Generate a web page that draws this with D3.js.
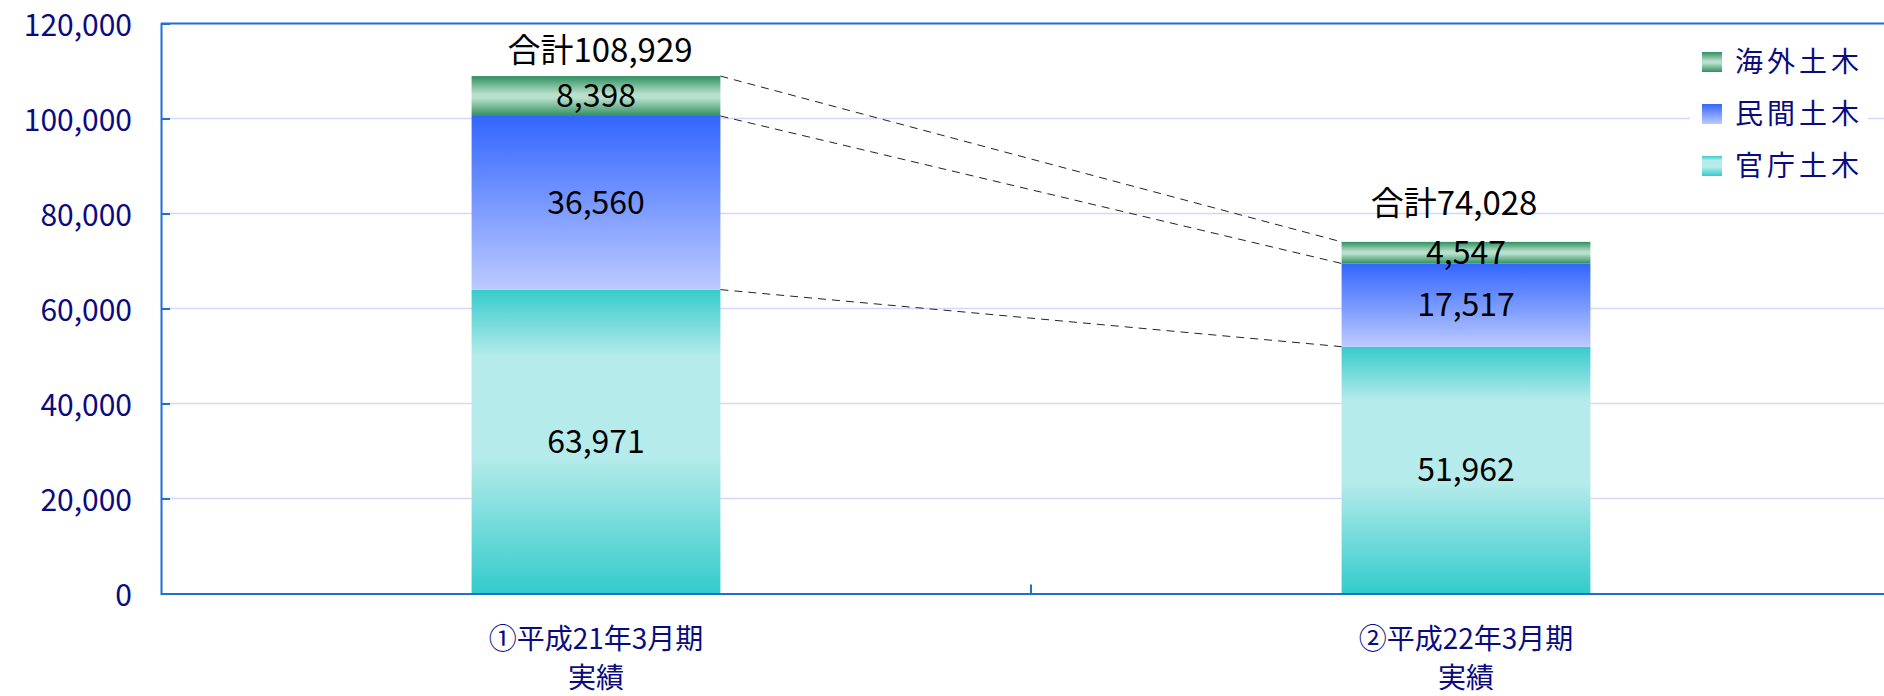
<!DOCTYPE html>
<html>
<head>
<meta charset="utf-8">
<script src="https://cdn.jsdelivr.net/npm/d3@7"></script>
<style>
  html, body { margin: 0; padding: 0; background: #fff; }
  svg { display: block; font-family: "Noto Sans CJK JP", "Noto Sans", sans-serif; }
</style>
</head>
<body>
<div id="chart"></div>
<script>
// data
const categories = ['①平成21年3月期', '②平成22年3月期']
const categorySub = ['実績', '実績']
const seriesNames = ['官庁土木', '民間土木', '海外土木']
const kanchoValues = [63971, 51962]
const minkanValues = [36560, 17517]
const kaigaiValues = [8398, 4547]
const totals = [108929, 74028]
const yTicks = [0, 20000, 40000, 60000, 80000, 100000, 120000]

const width = 1884, height = 696
const margin = { left: 161, top: 23.5, bottom: 593.5, right: 1901 }
const navy = '#0b0b80'
const axisBlue = '#1f6fd6'

const svg = d3.select('#chart').append('svg')
  .attr('width', width)
  .attr('height', height)

// gradients
const defs = svg.append('defs')
const grads = {
  kancho: [[0, '#36cbcb'], [0.22, '#b6ebeb'], [0.55, '#b6ebeb'], [1, '#33cbcb']],
  minkan: [[0, '#3366ff'], [1, '#bccaff']],
  kaigai: [[0, '#2f8f5f'], [0.45, '#b9e0cc'], [0.55, '#b9e0cc'], [1, '#2f8f5f']]
}
Object.keys(grads).forEach((k) => {
  let g = defs.append('linearGradient').attr('id', 'g-' + k)
    .attr('x1', 0).attr('y1', 0).attr('x2', 0).attr('y2', 1)
  grads[k].forEach((s) => {
    g.append('stop').attr('offset', s[0]).attr('stop-color', s[1])
  })
})
const fillKeys = ['kancho', 'minkan', 'kaigai']

const y = d3.scaleLinear().domain([0, 120000]).range([margin.bottom, margin.top])
const x = d3.scaleBand().domain(categories).range([margin.left, margin.right])
const barW = x.bandwidth() * 0.286

// grid lines
svg.append('g')
  .selectAll('line')
  .data(yTicks.filter((t) => t > 0 && t < 120000))
  .enter().append('line')
  .attr('x1', margin.left).attr('x2', width)
  .attr('y1', (d) => y(d)).attr('y2', (d) => y(d))
  .attr('stroke', '#d6d6fb').attr('stroke-width', 1.5)

// stacked data
const rows = categories.map((c, i) => ({
  cat: c, s0: kanchoValues[i], s1: minkanValues[i], s2: kaigaiValues[i]
}))
const stacked = d3.stack().keys(['s0', 's1', 's2'])(rows)

const barX = (c) => x(c) + (x.bandwidth() - barW) / 2

stacked.forEach((layer, li) => {
  svg.append('g')
    .selectAll('rect')
    .data(layer)
    .enter().append('rect')
    .attr('x', (d) => barX(d.data.cat))
    .attr('y', (d) => y(d[1]))
    .attr('width', barW)
    .attr('height', (d) => y(d[0]) - y(d[1]))
    .attr('fill', 'url(#g-' + fillKeys[li] + ')')
})

// dashed connectors between bar tops
const levels = [0, 1, 2].map((li) => stacked[li].map((d) => d[1]))
svg.append('g')
  .selectAll('line')
  .data(levels)
  .enter().append('line')
  .attr('x1', barX(categories[0]) + barW)
  .attr('y1', (d) => y(d[0]))
  .attr('x2', barX(categories[1]))
  .attr('y2', (d) => y(d[1]))
  .attr('stroke', '#222')
  .attr('stroke-width', 1)
  .attr('stroke-dasharray', '8,6')

// segment value labels
stacked.forEach((layer) => {
  svg.append('g')
    .selectAll('text')
    .data(layer)
    .enter().append('text')
    .attr('x', (d) => barX(d.data.cat) + barW / 2)
    .attr('y', (d) => (y(d[0]) + y(d[1])) / 2 + 11)
    .attr('text-anchor', 'middle')
    .attr('font-size', 32)
    .attr('fill', '#000')
    .text((d) => d3.format(',')(d[1] - d[0]))
})

// totals
const totalGap = [14, 27]
const totalShift = [4, -12]
svg.append('g')
  .selectAll('text')
  .data(totals)
  .enter().append('text')
  .attr('x', (d, i) => barX(categories[i]) + barW / 2 + totalShift[i])
  .attr('y', (d, i) => y(d) - totalGap[i])
  .attr('text-anchor', 'middle')
  .attr('font-size', 33)
  .attr('fill', '#000')
  .text((d) => '合計' + d3.format(',')(d))

// axes
const yAxis = svg.append('g')
  .attr('transform', `translate(${margin.left},0)`)
  .call(d3.axisRight(y).tickValues(yTicks).tickSize(9).tickFormat(''))
yAxis.select('.domain').attr('stroke', axisBlue).attr('stroke-width', 2)
yAxis.selectAll('.tick line').attr('stroke', axisBlue).attr('stroke-width', 2)

svg.append('g')
  .selectAll('text')
  .data(yTicks)
  .enter().append('text')
  .attr('x', 132)
  .attr('y', (d) => y(d) + 12)
  .attr('text-anchor', 'end')
  .attr('font-size', 30)
  .attr('fill', navy)
  .text((d) => d3.format(',')(d))

// top border
svg.append('line')
  .attr('x1', margin.left).attr('x2', width)
  .attr('y1', margin.top).attr('y2', margin.top)
  .attr('stroke', axisBlue).attr('stroke-width', 2)

const xAxis = svg.append('g')
  .attr('transform', `translate(0,${margin.bottom})`)
  .call(d3.axisTop(x).tickSize(0).tickFormat(''))
xAxis.select('.domain').attr('stroke', axisBlue).attr('stroke-width', 2)
svg.append('line')
  .attr('x1', x(categories[1])).attr('x2', x(categories[1]))
  .attr('y1', margin.bottom).attr('y2', margin.bottom - 9)
  .attr('stroke', axisBlue).attr('stroke-width', 2)

// category labels
const catG = svg.append('g')
catG.selectAll('text.c1')
  .data(categories)
  .enter().append('text')
  .attr('x', (d) => x(d) + x.bandwidth() / 2)
  .attr('y', 649)
  .attr('text-anchor', 'middle')
  .attr('font-size', 28)
  .attr('fill', navy)
  .text((d) => d)
catG.selectAll('text.c2')
  .data(categorySub)
  .enter().append('text')
  .attr('x', (d, i) => x(categories[i]) + x.bandwidth() / 2)
  .attr('y', 688)
  .attr('text-anchor', 'middle')
  .attr('font-size', 28)
  .attr('fill', navy)
  .text((d) => d)

// legend
const legend = svg.append('g')
legend.append('rect')
  .attr('x', 1690).attr('y', 36).attr('width', 178).attr('height', 160)
  .attr('fill', '#fff')
const legendItems = [2, 1, 0]
legendItems.forEach((si, i) => {
  let cy = 62 + i * 52
  legend.append('rect')
    .attr('x', 1702).attr('y', cy - 10).attr('width', 20).attr('height', 20)
    .attr('fill', 'url(#g-' + fillKeys[si] + ')')
  legend.append('text')
    .attr('x', 1735).attr('y', cy + 10)
    .attr('font-size', 28)
    .attr('letter-spacing', 4)
    .attr('fill', navy)
    .text(seriesNames[si])
})
</script>
</body>
</html>
